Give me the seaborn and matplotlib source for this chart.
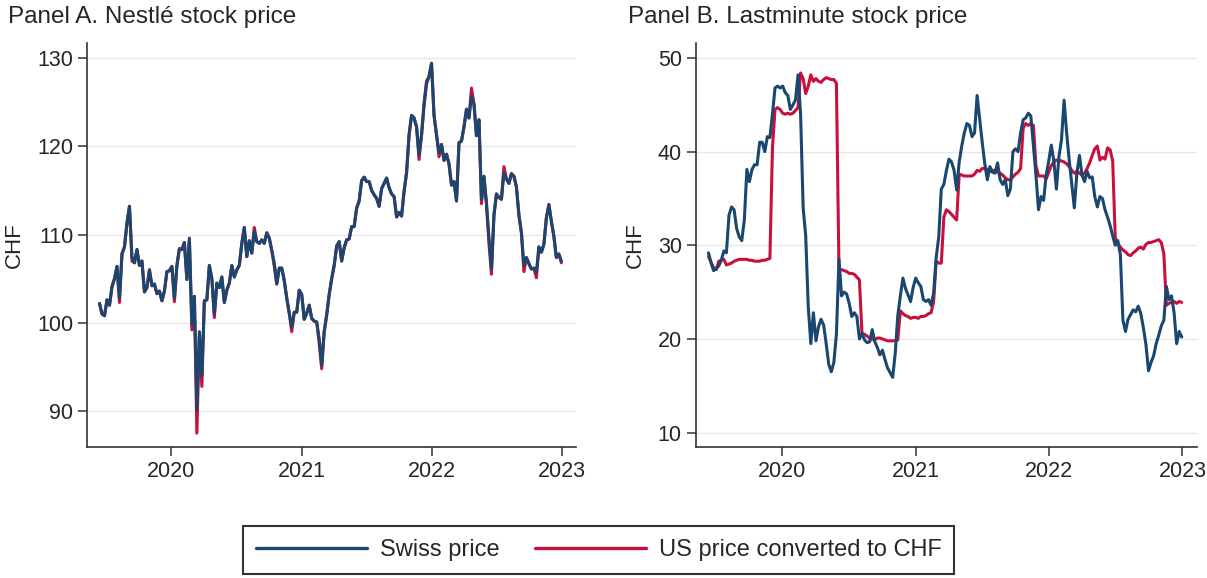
import matplotlib
matplotlib.use('Agg')
import matplotlib.pyplot as plt
import matplotlib.dates as mdates
from matplotlib.lines import Line2D
import seaborn as sns
import pandas as pd

# weekly closes (Fridays)
week_start = '2019-06-14'
week_end = '2022-12-30'

nestle_swiss = [
    102.2, 101.0, 100.8, 102.6, 102.0, 104.1, 105.0, 106.4, 102.8, 107.8,
    108.6, 111.3, 113.2, 107.5, 106.8, 108.3, 106.5, 107.0, 103.5, 104.0,
    106.0, 104.2, 104.4, 103.3, 103.6, 102.5, 103.6, 105.8, 105.9, 106.4,
    102.8, 106.5, 108.4, 108.3, 109.1, 104.9, 109.6, 99.8, 103.0, 90.1,
    99.0, 94.0, 102.5, 102.6, 106.5, 105.0, 101.0, 104.5, 104.0, 105.2,
    102.3, 103.7, 104.5, 106.5, 105.2, 106.0, 106.5, 109.0, 110.8, 107.5,
    109.3, 107.9, 110.4, 109.2, 109.0, 109.4, 109.0, 110.2, 109.6, 108.2,
    106.8, 104.4, 106.2, 106.2, 104.8, 102.8, 101.1, 99.5, 101.2, 101.2,
    103.7, 103.2, 100.4, 101.1, 102.0, 100.5, 100.2, 100.1, 98.2, 95.2,
    99.0, 100.9, 103.2, 105.0, 106.5, 108.7, 109.2, 107.0, 108.5, 109.4,
    109.5, 110.9, 110.9, 113.0, 113.8, 116.1, 116.5, 116.0, 116.0, 115.0,
    114.5, 114.1, 113.2, 115.2, 115.8, 116.4, 115.3, 114.6, 114.3, 112.0,
    112.5, 112.1, 114.9, 117.0, 121.3, 123.5, 123.2, 122.2, 119.0, 121.3,
    124.6, 127.1, 127.9, 129.4, 123.5, 121.3, 119.3, 120.2, 118.4, 119.1,
    118.0, 115.6, 116.0, 113.8, 120.4, 120.6, 122.2, 124.2, 123.2, 125.7,
    124.8, 121.2, 123.0, 114.0, 116.6, 113.5, 109.6, 106.1, 112.2, 114.6,
    114.2, 114.0, 117.0, 116.3, 115.8, 116.9, 116.6, 115.4, 112.2, 110.2,
    106.5, 107.4, 106.7, 106.1, 106.2, 105.7, 108.6, 108.0, 108.9, 111.9,
    113.4, 111.5, 109.8, 107.4, 107.8, 107.0,
]

nestle_us = [
    102.2, 101.0, 100.8, 102.6, 102.0, 104.1, 105.0, 106.4, 102.3, 107.8,
    108.6, 111.3, 113.2, 107.0, 106.8, 108.3, 106.5, 107.0, 103.5, 104.0,
    106.0, 104.2, 104.4, 103.3, 103.6, 102.5, 103.6, 105.8, 105.9, 106.4,
    102.4, 106.5, 108.4, 108.3, 109.1, 104.9, 109.4, 99.2, 103.0, 87.5,
    98.5, 92.8, 102.5, 102.6, 106.5, 105.0, 100.6, 104.5, 104.0, 105.2,
    102.3, 103.7, 104.5, 106.5, 105.2, 106.0, 106.5, 109.0, 110.8, 107.5,
    109.3, 107.9, 110.8, 109.2, 109.0, 109.4, 109.0, 110.2, 109.6, 108.2,
    106.4, 104.4, 106.2, 106.2, 104.8, 102.8, 101.1, 99.0, 101.2, 101.2,
    103.7, 103.2, 100.4, 101.1, 102.0, 100.5, 100.2, 100.1, 97.7, 94.8,
    99.0, 100.9, 103.2, 105.0, 106.5, 108.7, 109.2, 107.0, 108.5, 109.4,
    109.5, 110.9, 110.9, 113.0, 113.8, 116.1, 116.5, 116.0, 116.0, 115.0,
    114.5, 114.1, 113.2, 115.2, 115.8, 116.4, 115.3, 114.6, 114.3, 112.0,
    112.5, 112.1, 114.9, 117.0, 121.3, 123.5, 123.2, 122.2, 118.5, 121.3,
    124.9, 127.4, 127.9, 129.4, 123.5, 121.3, 118.8, 120.2, 118.4, 119.1,
    118.0, 115.6, 116.0, 113.8, 120.4, 120.6, 122.2, 124.2, 123.2, 126.6,
    124.8, 121.2, 123.0, 113.5, 116.6, 113.5, 109.0, 105.5, 112.2, 114.6,
    114.2, 114.0, 117.7, 116.3, 115.8, 116.9, 116.6, 115.4, 112.2, 110.2,
    105.8, 107.4, 106.7, 106.1, 106.2, 105.1, 108.6, 108.0, 108.9, 111.9,
    113.4, 111.5, 109.8, 107.4, 107.8, 106.8,
]

lastminute_swiss = [
    29.2, 28.1, 27.3, 27.5, 27.8, 28.4, 29.4, 29.2, 33.2, 34.1,
    33.8, 31.8, 30.9, 30.5, 32.7, 38.1, 36.8, 38.1, 38.6, 38.6,
    41.0, 41.0, 40.0, 41.6, 41.5, 44.0, 46.8, 47.0, 46.8, 47.0,
    46.3, 46.0, 44.5, 45.0, 45.5, 48.2, 44.0, 34.0, 31.0, 23.4,
    19.5, 22.8, 19.8, 21.3, 22.1, 21.5, 19.5, 17.3, 16.5, 17.5,
    20.5, 28.5, 24.6, 25.0, 24.8, 23.8, 22.4, 22.8, 22.4, 20.0,
    20.6, 19.9, 19.6, 19.7, 21.0, 19.7, 19.1, 18.3, 18.8, 17.8,
    16.9, 16.4, 15.9, 18.5, 22.5, 24.6, 26.5, 25.4, 24.7, 24.0,
    25.5, 26.5, 26.0, 25.6, 24.2, 24.0, 24.2, 23.6, 24.9, 28.7,
    30.9, 36.0, 36.5, 38.0, 39.2, 38.9, 38.0, 35.9, 38.9, 40.6,
    42.0, 43.0, 42.8, 41.6, 42.0, 46.0, 43.5, 41.0, 38.7, 37.0,
    38.4, 37.8, 37.7, 38.8, 37.0, 36.5, 37.0, 35.3, 36.0, 40.0,
    40.3, 40.0, 42.0, 43.4, 43.6, 44.1, 43.8, 40.6, 37.5, 33.8,
    35.2, 34.8, 37.5, 39.0, 40.7, 39.0, 36.0, 39.5, 41.3, 45.5,
    42.0, 39.1, 36.5, 34.0, 37.7, 39.6, 37.5, 36.8, 37.9, 37.2,
    37.3, 35.2, 34.1, 35.2, 35.0, 33.8, 33.0, 32.1, 31.0, 30.0,
    30.5, 29.0, 22.0, 20.8, 22.1, 22.6, 23.1, 22.9, 23.5, 22.7,
    21.2, 19.4, 16.6, 17.5, 18.2, 19.5, 20.4, 21.4, 22.0, 25.6,
    24.2, 24.6, 22.8, 19.5, 20.8, 20.2,
]

lastminute_us = [
    28.8, 28.2, 27.6, 27.4, 28.3, 28.4, 28.5, 27.9, 28.0, 28.1,
    28.3, 28.4, 28.5, 28.5, 28.5, 28.5, 28.4, 28.4, 28.3, 28.3,
    28.3, 28.4, 28.4, 28.5, 28.6, 40.4, 44.5, 44.7, 44.5, 44.1,
    44.0, 44.1, 44.0, 44.1, 44.4, 44.7, 48.4, 47.8, 46.2, 47.0,
    48.2, 47.5, 47.8, 47.5, 47.4, 47.7, 47.9, 47.8, 47.7, 47.7,
    47.3, 27.4, 27.4, 27.3, 27.2, 27.0, 27.0, 26.9, 26.6, 26.3,
    20.6, 20.5, 20.3, 20.1, 20.0, 19.9, 20.1, 20.1, 20.0, 19.9,
    19.8, 19.8, 19.8, 19.8, 19.9, 23.0, 22.7, 22.5, 22.4, 22.2,
    22.3, 22.3, 22.2, 22.4, 22.4, 22.5, 22.7, 22.8, 24.0, 28.3,
    28.1, 28.1, 33.0, 33.8, 33.6, 33.3, 33.0, 32.7, 37.6, 37.5,
    37.4, 37.4, 37.4, 37.4, 37.6, 38.0, 37.9, 38.2, 38.2, 38.1,
    37.9, 38.0, 38.0, 37.8, 37.7, 37.5, 37.2, 37.0, 37.0, 37.3,
    37.6, 37.8, 38.2, 42.5, 43.0, 42.8, 43.0, 42.8, 38.5, 37.4,
    37.4, 37.4, 37.1, 37.8, 38.5, 38.9, 39.1, 39.1, 39.0, 38.9,
    38.7, 38.4, 38.0, 37.7, 37.9, 37.7, 37.5, 37.7, 38.2, 38.8,
    39.6, 40.3, 40.6, 39.1, 39.4, 39.2, 40.4, 40.2, 39.0, 30.8,
    30.2, 29.8, 29.5, 29.3, 29.0, 28.9, 29.2, 29.4, 29.7, 29.8,
    29.6, 30.1, 30.3, 30.3, 30.4, 30.5, 30.6, 30.3, 29.1, 23.6,
    23.8, 23.9, 24.0, 23.8, 24.0, 23.9,
]

series_names = ['Swiss price', 'US price converted to CHF']
colors = {'Swiss price': '#1a476f', 'US price converted to CHF': '#c8103c'}
panel_titles = ['Panel A. Nestlé stock price', 'Panel B. Lastminute stock price']


def make_long(swiss, us):
    dates = pd.date_range(week_start, week_end, freq='W-FRI')
    df = pd.DataFrame({'date': dates, series_names[0]: swiss, series_names[1]: us})
    return df.melt(id_vars='date', var_name='series', value_name='price')


sns.set_style('white')
plt.rcParams['font.family'] = ['Liberation Sans', 'DejaVu Sans']

fig = plt.figure(figsize=(12.07, 5.78), dpi=100)
ax_a = fig.add_axes([0.0721, 0.2261, 0.4051, 0.6995])
ax_b = fig.add_axes([0.5764, 0.2261, 0.4151, 0.6995])

panels = [
    (ax_a, nestle_swiss, nestle_us, (85.9, 131.7), [90, 100, 110, 120, 130], -0.128),
    (ax_b, lastminute_swiss, lastminute_us, (8.43, 51.6), [10, 20, 30, 40, 50], -0.1),
]

for ax, swiss, us, ylim, yticks, label_x in panels:
    df = make_long(swiss, us)
    # US first so the Swiss line sits on top
    sns.lineplot(data=df, x='date', y='price', hue='series', hue_order=series_names[::-1],
                 palette=colors, linewidth=2.2, estimator=None, legend=False, ax=ax)

    ax.set_xlim(pd.Timestamp('2019-05-10'), pd.Timestamp('2023-02-09'))
    ax.set_ylim(*ylim)
    ax.set_yticks(yticks)
    ax.xaxis.set_major_locator(mdates.YearLocator())
    ax.xaxis.set_major_formatter(mdates.DateFormatter('%Y'))

    ax.grid(True, axis='y', color='#e8e8e8', linewidth=1.0)
    ax.grid(False, axis='x')
    ax.set_axisbelow(True)
    for side in ['top', 'right']:
        ax.spines[side].set_visible(False)
    for side in ['left', 'bottom']:
        ax.spines[side].set_color('#333333')
        ax.spines[side].set_linewidth(1.2)

    ax.tick_params(axis='both', direction='out', length=6.5, width=1.1, color='#333333',
                   labelsize=15.5, pad=3.5, left=True, bottom=True)
    ax.set_xlabel('')
    ax.set_ylabel('CHF', fontsize=16)
    ax.yaxis.set_label_coords(label_x, 0.5)

fig.text(8 / 1207, 0.9607, panel_titles[0], fontsize=17.5, ha='left', va='baseline')
fig.text(628 / 1207, 0.9607, panel_titles[1], fontsize=17.5, ha='left', va='baseline')

handles = [Line2D([], [], color=colors[n], linewidth=2.4) for n in series_names]
leg = fig.legend(handles, series_names, loc='center', bbox_to_anchor=(0.4959, 0.0484),
                 ncol=2, fontsize=17, frameon=True, fancybox=False, handlelength=4.7,
                 handletextpad=0.55, columnspacing=1.5, borderpad=0.55)
leg.get_frame().set_edgecolor('black')
leg.get_frame().set_linewidth(1.5)

fig.savefig('out.png', dpi=100)
